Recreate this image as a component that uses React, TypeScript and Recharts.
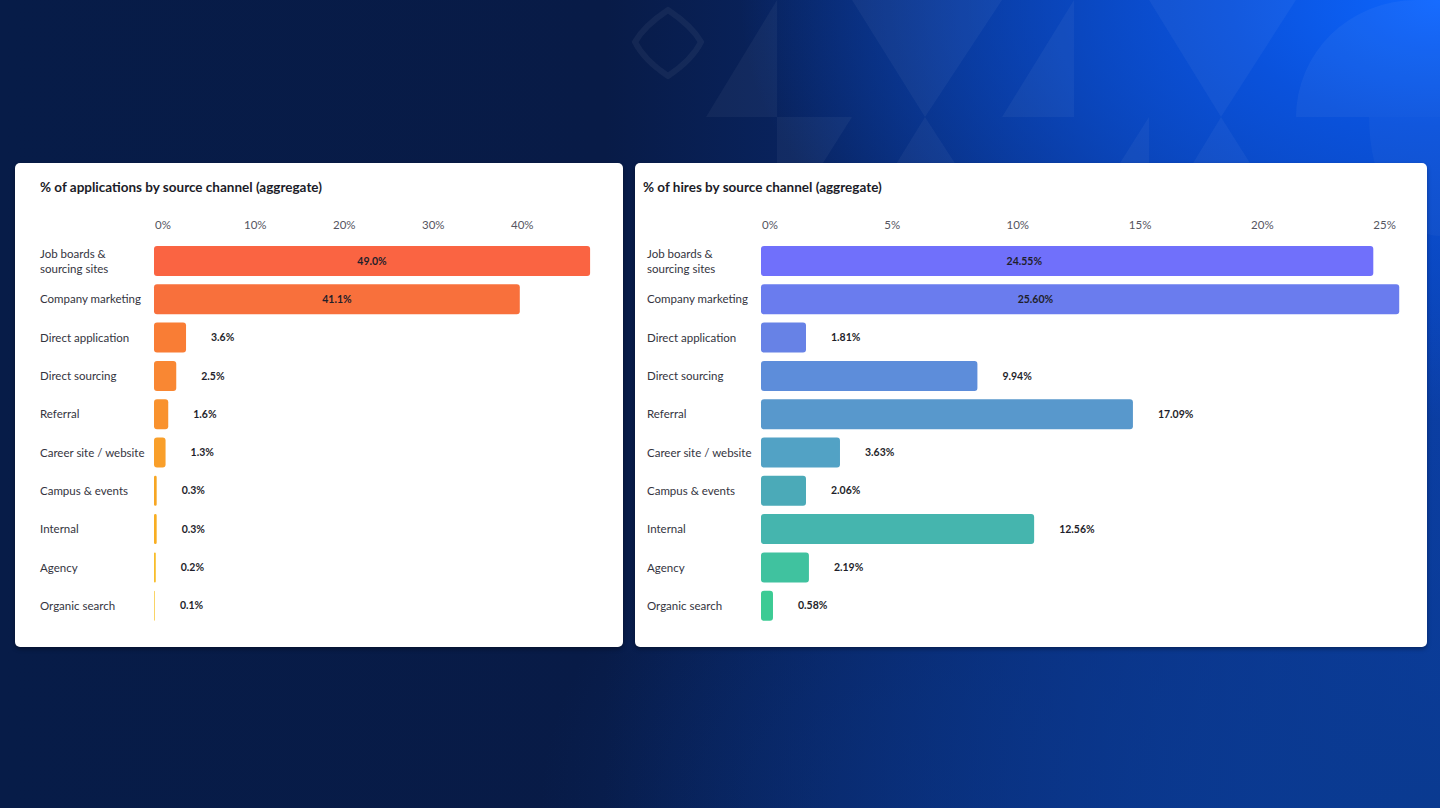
import { BarChart, Bar, XAxis, YAxis, Cell, LabelList } from "recharts";

const channels = [
  "Job boards & sourcing sites",
  "Company marketing",
  "Direct application",
  "Direct sourcing",
  "Referral",
  "Career site / website",
  "Campus & events",
  "Internal",
  "Agency",
  "Organic search",
];

// applications chart
const appValues = [49.0, 41.1, 3.6, 2.5, 1.6, 1.3, 0.3, 0.3, 0.2, 0.1];
const appLabels = ["49.0%", "41.1%", "3.6%", "2.5%", "1.6%", "1.3%", "0.3%", "0.3%", "0.2%", "0.1%"];
const appColors = ["#fa6442", "#f8703c", "#f97d35", "#f98733", "#f9922e", "#f99f2a", "#f7a623", "#f8ae22", "#f8bd2a", "#f9cf55"];
const appTicks = [0, 10, 20, 30, 40];

// hires chart (bar lengths, labels as printed)
const hireValues = [25.04, 26.1, 1.84, 8.85, 15.21, 3.23, 1.84, 11.17, 1.96, 0.49];
const hireLabels = ["24.55%", "25.60%", "1.81%", "9.94%", "17.09%", "3.63%", "2.06%", "12.56%", "2.19%", "0.58%"];
const hireColors = ["#7070fb", "#6a7cee", "#6782e6", "#5d8dda", "#5898cc", "#52a2c5", "#4baab8", "#45b5ae", "#40c29f", "#3ccb94"];
const hireTicks = [0, 5, 10, 15, 20, 25];

const FONT = "Lato, 'Noto Sans', sans-serif";

let ctx: CanvasRenderingContext2D | null = null;
const measure = (s: string) => {
  if (!ctx) ctx = document.createElement("canvas").getContext("2d");
  if (!ctx) return s.length * 5.4;
  ctx.font = "11.5px Lato, sans-serif";
  return ctx.measureText(s).width;
};

// two-line balanced wrap when the label is too long for the axis
const wrap = (text: string, maxW: number) => {
  if (measure(text) <= maxW) return [text];
  const words = text.split(" ");
  let best = [text];
  let bestW = Infinity;
  for (let i = 1; i < words.length; i++) {
    const a = words.slice(0, i).join(" ");
    const b = words.slice(i).join(" ");
    const w = Math.max(measure(a), measure(b));
    if (w < bestW) {
      bestW = w;
      best = [a, b];
    }
  }
  return best;
};

const CategoryTick = ({ y, payload, left }: any) => {
  const lines = wrap(payload.value, 122);
  const y0 = y - ((lines.length - 1) * 15) / 2;
  return (
    <text fontFamily={FONT} fontSize={11.5} fill="#34343e">
      {lines.map((l, i) => (
        <tspan key={i} x={left} y={y0 + i * 15} dy="0.35em">
          {l}
        </tspan>
      ))}
    </text>
  );
};

const makeLabel = (insideAt: number, plotW: number) => (props: any) => {
  const { x, y, width, height, value } = props;
  const inside = width > plotW * 0.7;
  const tx = inside ? x + width * insideAt : x + width + 25;
  return (
    <text
      x={tx}
      y={y + height / 2}
      dy="0.35em"
      textAnchor={inside ? "middle" : "start"}
      fontFamily={FONT}
      fontSize={10.5}
      fontWeight={700}
      fill="#1f1f2b"
    >
      {value}
    </text>
  );
};

type PanelProps = {
  title: string;
  left: number;
  width: number;
  titleLeft: number;
  labelLeft: number;
  values: number[];
  labels: string[];
  colors: string[];
  ticks: number[];
  max: number;
  rightMargin: number;
  insideAt: number;
};

const Panel = ({ title, left, width, titleLeft, labelLeft, values, labels, colors, ticks, max, rightMargin, insideAt }: PanelProps) => {
  const data = channels.map((c, i) => ({ name: c, value: values[i], label: labels[i] }));
  const plotW = width - labelLeft - 114 - rightMargin;
  return (
    <div
      style={{
        position: "absolute",
        left,
        top: 163,
        width,
        height: 484,
        background: "#fff",
        borderRadius: 5,
        boxShadow: "0 2px 4px rgba(0,0,0,0.35)",
      }}
    >
      <div
        style={{
          position: "absolute",
          left: titleLeft,
          top: 16,
          lineHeight: "16px",
          fontFamily: FONT,
          fontSize: 13.5,
          fontWeight: 700,
          color: "#1c1c28",
        }}
      >
        {title}
      </div>
      <div style={{ position: "absolute", left: 0, top: 0 }}>
        <BarChart
          width={width}
          height={484}
          data={data}
          layout="vertical"
          margin={{ top: 45, right: rightMargin, bottom: 22, left: labelLeft }}
        >
          <XAxis
            type="number"
            orientation="top"
            domain={[0, max]}
            ticks={ticks}
            interval={0}
            height={34}
            axisLine={false}
            tickLine={false}
            tick={(p: any) => (
              <text
                key={p.index}
                x={p.x + 1}
                y={62}
                dy="0.35em"
                textAnchor="start"
                fontFamily={FONT}
                fontSize={11.5}
                fill="#55555f"
              >
                {p.payload.value}%
              </text>
            )}
          />
          <YAxis
            type="category"
            dataKey="name"
            width={114}
            axisLine={false}
            tickLine={false}
            interval={0}
            tick={(p: any) => <CategoryTick key={p.index} {...p} left={labelLeft} />}
          />
          <Bar dataKey="value" barSize={30} radius={3} isAnimationActive={false}>
            {data.map((d, i) => (
              <Cell key={d.name} fill={colors[i]} />
            ))}
            <LabelList dataKey="label" content={makeLabel(insideAt, plotW)} />
          </Bar>
        </BarChart>
      </div>
    </div>
  );
};

const Decor = () => (
  <svg width={1440} height={808} style={{ position: "absolute", left: 0, top: 0 }}>
    <g fill="#ffffff" fillOpacity={0.045}>
      <polygon points="777,0 777,117 706,117" />
      <polygon points="852,0 1002,0 925,117" />
      <polygon points="777,117 852,117 777,236" />
      <polygon points="925,117 852,236 1002,236" />
      <polygon points="1074,117 1074,0 1002,117" />
      <polygon points="1149,0 1296,0 1221,117" />
      <polygon points="1149,117 1149,236 1074,236" />
      <polygon points="1221,117 1149,236 1296,236" />
      <path d="M1296,117 A120,117 0 0 1 1416,0 L1440,0 L1440,117 Z" />
      <path d="M1369,117 L1440,117 L1440,236 A71,119 0 0 1 1369,117 Z" fillOpacity={0.03} />
    </g>
    <path
      d="M668,10 Q692,26 701,42 Q692,60 668,76 Q644,60 635,42 Q644,26 668,10 Z"
      fill="none"
      stroke="#ffffff"
      strokeOpacity={0.05}
      strokeWidth={6}
    />
  </svg>
);

export default function App() {
  return (
    <div
      style={{
        position: "absolute",
        left: 0,
        top: 0,
        width: 1440,
        height: 808,
        overflow: "hidden",
        background:
          "radial-gradient(ellipse 700px 420px at 100% 0%, #0d66ff 0%, #0a52dc 30%, rgba(10,60,170,0) 100%), radial-gradient(ellipse 900px 500px at 100% 100%, #0a3a90 0%, rgba(10,40,110,0) 100%), linear-gradient(90deg, #071c48 0%, #081b47 42%, #0a2f80 75%, #0b3fa8 100%)",
      }}
    >
      <Decor />
      <Panel
        title="% of applications by source channel (aggregate)"
        left={15}
        width={608}
        titleLeft={25}
        labelLeft={25}
        values={appValues}
        labels={appLabels}
        colors={appColors}
        ticks={appTicks}
        max={50}
        rightMargin={24}
        insideAt={0.5}
      />
      <Panel
        title="% of hires by source channel (aggregate)"
        left={635}
        width={792}
        titleLeft={8}
        labelLeft={12}
        values={hireValues}
        labels={hireLabels}
        colors={hireColors}
        ticks={hireTicks}
        max={26.5}
        rightMargin={18}
        insideAt={0.43}
      />
    </div>
  );
}
